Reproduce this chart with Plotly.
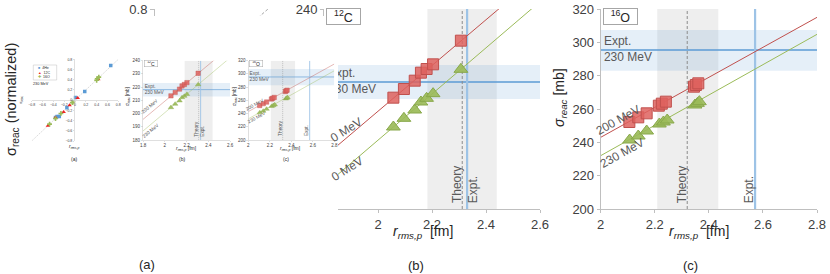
import plotly.graph_objects as go

W, H = 830, 274
FONT = "Arial, 'Liberation Sans', sans-serif"

# ---------------- data ----------------
# panel (a): normalized sigma_reac vs normalized r_rms,p (230 MeV)
he4_x = [0.66, 0.18, 0.01, -0.15, -0.33, -0.29, -0.36]
he4_y = [0.68, 0.17, 0.05, -0.15, -0.32, -0.32, -0.34]
c12n_x = [0.43, 0.05, -0.10, -0.21, -0.50, -0.36]
c12n_y = [0.41, 0.04, -0.10, -0.23, -0.50, -0.34]
o16n_x = [0.44, 0.41, 0.40, -0.04, -0.05, -0.26, -0.36, -0.47]
o16n_y = [0.45, 0.42, 0.39, -0.04, -0.05, -0.26, -0.36, -0.47]
diag_xy = [-0.8, 0.8]

# panel (b): 12C
c12_r = [2.057, 2.096, 2.136, 2.159, 2.180, 2.204, 2.307]
c12_200 = [213.4, 216.0, 218.5, 220.9, 222.0, 223.4, 230.5]
c12_230 = [204.6, 207.2, 209.7, 212.1, 213.2, 214.6, 221.9]
c12_fit_r = [1.8, 2.6]
c12_fit_200 = [195.6, 250.5]
c12_fit_230 = [186.8, 242.2]
c12_expt_sigma = 218.1
c12_expt_err = [213.0, 223.2]
c12_theory_r = 2.312
c12_theory_band = [2.183, 2.44]
c12_expt_r = 2.33

# panel (c): 16O
o16_r200 = [2.106, 2.139, 2.170, 2.215, 2.226, 2.241, 2.345, 2.352, 2.361]
o16_200 = [252.2, 255.0, 257.4, 262.0, 263.2, 264.4, 273.4, 274.4, 275.4]
o16_r230 = [2.107, 2.139, 2.170, 2.217, 2.232, 2.246, 2.349, 2.358, 2.365]
o16_230 = [241.4, 243.8, 246.8, 251.0, 252.2, 253.4, 262.4, 263.4, 264.4]
o16_fit_r = [2.0, 2.8]
o16_fit_200 = [243.0, 315.0]
o16_fit_230 = [232.0, 304.8]
o16_expt_sigma = 295.4
o16_expt_err = [283.0, 307.4]
o16_theory_r = 2.32
o16_theory_band = [2.209, 2.435]
o16_expt_r = 2.571

def fx(px):
    return px / W

def fy(py):
    return 1 - py / H

RED_FILL = 'rgba(222,98,94,0.85)'
RED_LINE = '#c0504d'
GRN_FILL = 'rgba(155,187,89,0.92)'
GRN_LINE = '#88a84a'
GREY_TXT = '#595959'

fig = go.Figure()
annots = []
shapes = []

def ax_style(size, lw=1.0, tl=4):
    return dict(showline=True, linecolor='#bfbfbf', linewidth=lw, ticks='outside',
                ticklen=tl, tickwidth=lw, tickcolor='#bfbfbf', automargin=False,
                tickfont=dict(size=size, color='#404040', family=FONT),
                showgrid=False, zeroline=False, fixedrange=True)

PANELS = {
    'b': dict(xr=[1.8, 2.6], yr=[180, 240], s200=c12_200, s230=c12_230,
              fr=c12_fit_r, f200=c12_fit_200, f230=c12_fit_230, es=c12_expt_sigma,
              err=c12_expt_err, th=c12_theory_r, band=c12_theory_band, er=c12_expt_r,
              r200=c12_r, r230=c12_r, nuc='<sup>12</sup>C', elx=1.815,
              thlab=2.291, exlab=2.351,
              mev200=(1.86, 205.5, -40), mev230=(1.875, 187.0, -40)),
    'c': dict(xr=[2.0, 2.8], yr=[200, 320], s200=o16_200, s230=o16_230,
              fr=o16_fit_r, f200=o16_fit_200, f230=o16_fit_230, es=o16_expt_sigma,
              err=o16_expt_err, th=o16_theory_r, band=o16_theory_band, er=o16_expt_r,
              r200=o16_r200, r230=o16_r230, nuc='<sup>16</sup>O', elx=2.012,
              thlab=2.2996, exlab=2.548,
              mev200=(2.064, 253.4, -29), mev230=(2.079, 233.6, -29)),
}

def add_panel(key, xa, ya, s, with_mev=True):
    P = PANELS[key]
    xr, yr = P['xr'], P['yr']
    shapes.append(dict(type='rect', xref=xa, yref=ya, x0=P['band'][0], x1=P['band'][1],
                       y0=yr[0], y1=yr[1], fillcolor='rgba(0,0,0,0.065)', line_width=0,
                       layer='below'))
    shapes.append(dict(type='rect', xref=xa, yref=ya, x0=xr[0], x1=xr[1],
                       y0=P['err'][0], y1=P['err'][1], fillcolor='rgba(91,155,213,0.16)',
                       line_width=0, layer='below'))
    kw = dict(xaxis=xa, yaxis=ya, showlegend=False, hoverinfo='skip')
    fig.add_trace(go.Scatter(x=xr, y=[P['es'], P['es']], mode='lines',
                             line=dict(color='#5b9bd5', width=1.6 * s), **kw))
    fig.add_trace(go.Scatter(x=[P['th'], P['th']], y=yr, mode='lines',
                             line=dict(color='#8c8c8c', width=max(1.0 * s, 0.4),
                                       dash='%gpx,%gpx' % (3 * s, 2 * s)), **kw))
    fig.add_trace(go.Scatter(x=[P['er'], P['er']], y=yr, mode='lines',
                             line=dict(color='#9dc3e6', width=2.2 * s), **kw))
    fig.add_trace(go.Scatter(x=P['fr'], y=P['f200'], mode='lines',
                             line=dict(color=RED_LINE, width=max(1.0 * s, 0.4)), **kw))
    fig.add_trace(go.Scatter(x=P['fr'], y=P['f230'], mode='lines',
                             line=dict(color='#9bbb59', width=max(1.0 * s, 0.4)), **kw))
    fig.add_trace(go.Scatter(x=P['r200'], y=P['s200'], mode='markers',
                             marker=dict(symbol='square', size=11 * s, color=RED_FILL,
                                         line=dict(color=RED_LINE, width=1 * s)), **kw))
    fig.add_trace(go.Scatter(x=P['r230'], y=P['s230'], mode='markers',
                             marker=dict(symbol='triangle-up', size=12 * s, color=GRN_FILL,
                                         line=dict(color=GRN_LINE, width=1 * s)), **kw))
    # Expt. label (inside the subplot, so it can be hidden by panels above it)
    fig.add_trace(go.Scatter(x=[P['elx']], y=[P['es']], mode='text',
                             text=['Expt.<br>230 MeV'], textposition='middle right',
                             textfont=dict(size=12 * s, color=GREY_TXT, family=FONT), **kw))
    # nucleus box
    annots.append(dict(xref=xa, yref=ya, x=xr[0], y=yr[1], xanchor='left', yanchor='top',
                       xshift=2 * s, yshift=1 * s, text=P['nuc'], showarrow=False,
                       width=31 * s, height=13 * s, borderpad=1 * s,
                       bordercolor='#a6a6a6', borderwidth=max(1 * s, 0.5), bgcolor='white',
                       font=dict(size=12.5 * s, color='#262626', family=FONT)))
    # Theory / Expt. vertical labels
    for lx, t in ((P['thlab'], 'Theory'), (P['exlab'], 'Expt.')):
        annots.append(dict(xref=xa, yref=ya, x=lx, y=yr[0], yshift=4 * s, xanchor='center',
                           yanchor='bottom', textangle=-90, text=t, showarrow=False,
                           font=dict(size=12 * s, color=GREY_TXT, family=FONT)))
    if with_mev:
        for (mx, my, ang), t in ((P['mev200'], '200 MeV'), (P['mev230'], '230 MeV')):
            annots.append(dict(xref=xa, yref=ya, x=mx, y=my, text=t, textangle=ang,
                               showarrow=False,
                               font=dict(size=12 * s, color=GREY_TXT, family=FONT)))

# ---- big (a): only its top edge remains visible ----
fig.add_trace(go.Scatter(x=diag_xy, y=diag_xy, mode='lines', xaxis='x', yaxis='y',
                         line=dict(color='#a6a6a6', width=1, dash='3px,2px'),
                         showlegend=False, hoverinfo='skip'))

# ---- big (b) and (c) ----
add_panel('b', 'x2', 'y2', 1.0, with_mev=False)
add_panel('c', 'x3', 'y3', 1.0)

# ---- cover panel (the reduced copy of the whole figure sits here) ----
fig.add_trace(go.Scatter(x=[None], y=[None], xaxis='x4', yaxis='y4', showlegend=False))

# ---- mini (a) ----
mk = dict(xaxis='x5', yaxis='y5', showlegend=False, hoverinfo='skip')
fig.add_trace(go.Scatter(x=diag_xy, y=diag_xy, mode='lines',
                         line=dict(color='#b0b0b0', width=0.5, dash='1.5px,1px'), **mk))
fig.add_trace(go.Scatter(x=he4_x, y=he4_y, mode='markers',
                         marker=dict(symbol='square', size=3.5, color='#5b9bd5'), **mk))
fig.add_trace(go.Scatter(x=c12n_x, y=c12n_y, mode='markers',
                         marker=dict(symbol='triangle-up', size=4, color='#ee2222'), **mk))
fig.add_trace(go.Scatter(x=o16n_x, y=o16n_y, mode='markers',
                         marker=dict(symbol='cross', size=4, color='#9bbb59'), **mk))

# ---- mini (b), (c) ----
S = 0.4
add_panel('b', 'x6', 'y6', S)
add_panel('c', 'x7', 'y7', S)

# ---------------- annotations (text) ----------------
def pa(x, y, text, size, angle=0, color='#262626', xanchor='center', yanchor='middle'):
    annots.append(dict(xref='paper', yref='paper', x=fx(x), y=fy(y), text=text,
                       showarrow=False, textangle=angle, xanchor=xanchor, yanchor=yanchor,
                       font=dict(size=size, color=color, family=FONT)))

pa(12, 100, 'σ<sub>reac</sub> (normalized)', 14.5, -90)
pa(147, 264, '(a)', 13)
pa(416, 265, '(b)', 13)
pa(690, 265, '(c)', 13)
pa(423, 232, '<i>r<sub>rms,p</sub></i>  [fm]', 14)
pa(699, 232, '<i>r<sub>rms,p</sub></i>  [fm]', 14)
pa(560, 98, '<i>σ<sub>reac</sub></i> [mb]', 14, -90)
# remnants of the rotated energy labels of (b) at the panel edge
pa(346, 130, '0 MeV', 12, -32, GREY_TXT)
pa(347, 169, '0 MeV', 12, -32, GREY_TXT)

# mini titles
pa(21, 100, 'σ<sub>reac</sub>', 4, -90)
pa(74, 146, '<i>r<sub>rms,p</sub></i>', 5)
pa(74, 159, '(a)', 5)
pa(128, 97, '<i>σ<sub>reac</sub></i> [mb]', 4.5, -90)
pa(186, 149, '<i>r<sub>rms,p</sub></i> [fm]', 5)
pa(182, 159, '(b)', 5)
pa(235, 97, '<i>σ<sub>reac</sub></i> [mb]', 4.5, -90)
pa(290, 149, '<i>r<sub>rms,p</sub></i> [fm]', 5)
pa(286, 159, '(c)', 5)
# mini legend
shapes.append(dict(type='rect', xref='paper', yref='paper', x0=fx(33.3), x1=fx(56.7),
                   y0=fy(80), y1=fy(65), line=dict(color='#bfbfbf', width=0.5),
                   fillcolor='rgba(255,255,255,0)', layer='above'))
pa(36, 67.6, "<span style='color:#5b9bd5'>■</span>  4He", 3.6, xanchor='left')
pa(36, 72.5, "<span style='color:#ee2222'>▲</span>  12C", 3.6, xanchor='left')
pa(36, 77.4, "<span style='color:#9bbb59'>✚</span>  16O", 3.6, xanchor='left')
pa(41, 84.5, '230 MeV', 3.8)

# ---------------- layout ----------------
xa1 = ax_style(13); xa1.update(domain=[fx(40), fx(268)], range=[-0.8, 0.8], dtick=0.2,
                               anchor='free', position=fy(109))
ya1 = ax_style(13); ya1.update(domain=[fy(209), fy(9)], range=[-0.8, 0.8], dtick=0.2,
                               anchor='free', position=fx(154))
xa2 = ax_style(13, tl=3); xa2.update(domain=[fx(324), fx(540)], range=[1.8, 2.6], dtick=0.2, anchor='y2')
ya2 = ax_style(13, tl=3); ya2.update(domain=[fy(209), fy(9)], range=[180, 240], dtick=10, anchor='x2')
xa3 = ax_style(13, tl=3); xa3.update(domain=[fx(600.7), fx(817)], range=[2.0, 2.8], dtick=0.2, anchor='y3')
ya3 = ax_style(13, tl=3); ya3.update(domain=[fy(209), fy(9)], range=[200, 320], dtick=20, anchor='x3')
xa4 = dict(domain=[fx(20), fx(338)], visible=False, anchor='y4', range=[0, 1],
           fixedrange=True, automargin=False)
ya4 = dict(domain=[0, fy(16)], visible=False, anchor='x4', range=[0, 1],
           fixedrange=True, automargin=False)
xa5 = ax_style(3.5, lw=0.5, tl=1); xa5.update(domain=[fx(31.7), fx(118.3)], range=[-0.8, 0.8],
                                              dtick=0.2, anchor='free', position=fy(100))
ya5 = ax_style(3.5, lw=0.5, tl=1); ya5.update(domain=[fy(141), fy(59.3)], range=[-0.8, 0.8],
                                              dtick=0.2, anchor='free', position=fx(74))
xa6 = ax_style(4.5, lw=0.5, tl=1.5); xa6.update(domain=[fx(143), fx(230)], range=[1.8, 2.6], dtick=0.2, anchor='y6')
ya6 = ax_style(4.5, lw=0.5, tl=1.5); ya6.update(domain=[fy(140), fy(60.7)], range=[180, 240], dtick=10, anchor='x6')
xa7 = ax_style(4.5, lw=0.5, tl=1.5); xa7.update(domain=[fx(248.3), fx(334.3)], range=[2.0, 2.8], dtick=0.2, anchor='y7')
ya7 = ax_style(4.5, lw=0.5, tl=1.5); ya7.update(domain=[fy(140), fy(60.7)], range=[200, 320], dtick=20, anchor='x7')

fig.update_layout(
    template='none',
    width=W, height=H, autosize=False,
    margin=dict(l=0, r=0, t=0, b=0, pad=0),
    paper_bgcolor='white', plot_bgcolor='white',
    font=dict(family=FONT, color='#262626'),
    showlegend=False,
    xaxis=xa1, yaxis=ya1, xaxis2=xa2, yaxis2=ya2, xaxis3=xa3, yaxis3=ya3,
    xaxis4=xa4, yaxis4=ya4, xaxis5=xa5, yaxis5=ya5, xaxis6=xa6, yaxis6=ya6,
    xaxis7=xa7, yaxis7=ya7,
    annotations=annots, shapes=shapes,
)

fig.write_html("out.html", config=dict(displayModeBar=False, staticPlot=True),
               post_script="document.body.style.margin='0';document.body.style.padding='0';"
                           "document.documentElement.style.overflow='hidden';")
